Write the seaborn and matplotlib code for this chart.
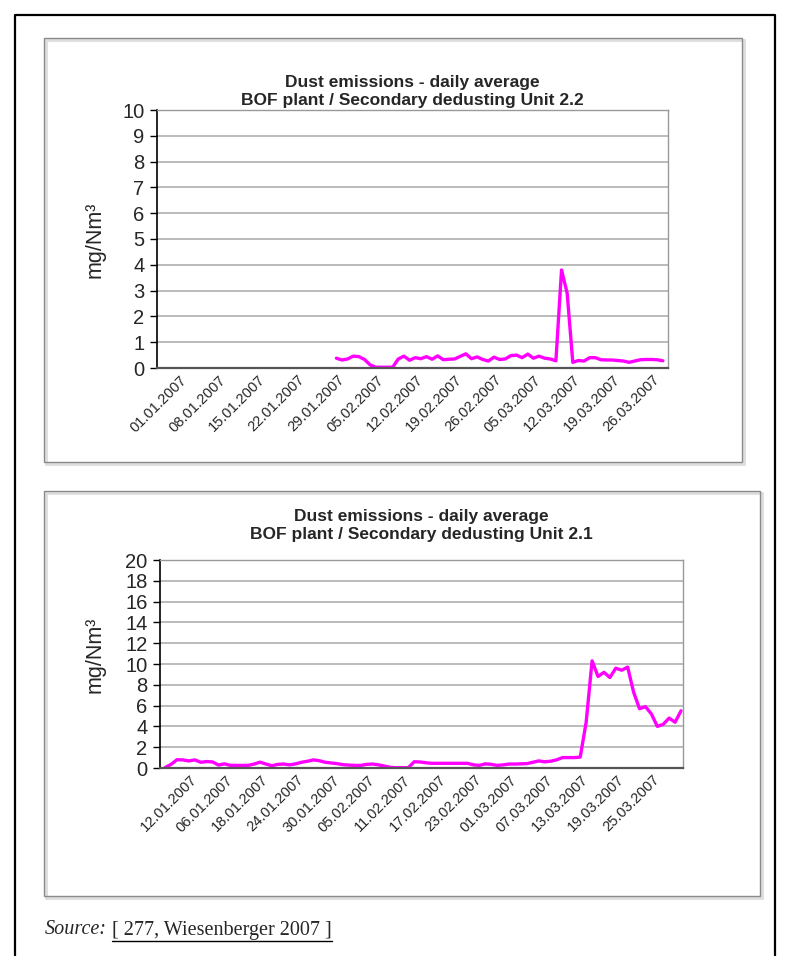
"""
Dust emissions - daily average, BOF plant / secondary dedusting units 2.2 and 2.1.
"""
import matplotlib
matplotlib.use("Agg")
import matplotlib.pyplot as plt
import matplotlib.transforms as mtransforms
from matplotlib.patches import Rectangle
from matplotlib.lines import Line2D
import pandas as pd
import seaborn as sns

# --- Unit 2.2 (daily averages, mg/Nm3), data from 28.01.2007 ---
unit22_start = "2007-01-28"
unit22_values = [
    0.38, 0.31, 0.35, 0.46, 0.44, 0.33, 0.12, 0.03, 0.03, 0.03,
    0.03, 0.35, 0.46, 0.30, 0.40, 0.36, 0.44, 0.34, 0.47, 0.32,
    0.34, 0.35, 0.45, 0.55, 0.36, 0.43, 0.33, 0.27, 0.42, 0.33,
    0.35, 0.48, 0.50, 0.40, 0.54, 0.38, 0.46, 0.38, 0.35, 0.28,
    3.80, 2.90, 0.22, 0.29, 0.27, 0.40, 0.40, 0.32, 0.31, 0.31,
    0.29, 0.27, 0.22, 0.27, 0.32, 0.33, 0.33, 0.32, 0.28,
]
unit22_tick_dates = ["2007-01-01", "2007-01-08", "2007-01-15", "2007-01-22", "2007-01-29",
                     "2007-02-05", "2007-02-12", "2007-02-19", "2007-02-26", "2007-03-05",
                     "2007-03-12", "2007-03-19", "2007-03-26"]
unit22_ticks = ["01.01.2007", "08.01.2007", "15.01.2007", "22.01.2007", "29.01.2007",
                "05.02.2007", "12.02.2007", "19.02.2007", "26.02.2007", "05.03.2007",
                "12.03.2007", "19.03.2007", "26.03.2007"]
unit22_yticks = list(range(0, 11))

# --- Unit 2.1 (daily averages, mg/Nm3), data from 01.01.2007 ---
unit21_start = "2007-01-01"
unit21_values = [
    0.05, 0.35, 0.80, 0.78, 0.68, 0.78, 0.55, 0.62, 0.58, 0.28,
    0.40, 0.25, 0.25, 0.25, 0.25, 0.38, 0.56, 0.38, 0.22, 0.35,
    0.38, 0.30, 0.40, 0.55, 0.65, 0.78, 0.70, 0.55, 0.48, 0.42,
    0.32, 0.28, 0.25, 0.25, 0.35, 0.38, 0.30, 0.18, 0.06, 0.03,
    0.03, 0.03, 0.60, 0.58, 0.50, 0.45, 0.45, 0.45, 0.45, 0.45,
    0.45, 0.45, 0.30, 0.25, 0.40, 0.35, 0.25, 0.30, 0.38, 0.38,
    0.40, 0.42, 0.55, 0.68, 0.60, 0.65, 0.78, 1.00, 1.00, 1.00,
    1.05, 4.40, 10.30, 8.80, 9.20, 8.70, 9.60, 9.40, 9.70, 7.30,
    5.70, 5.90, 5.20, 4.00, 4.20, 4.80, 4.40, 5.50,
]
unit21_tick_dates = ["2007-01-06", "2007-01-12", "2007-01-18", "2007-01-24", "2007-01-30",
                     "2007-02-05", "2007-02-11", "2007-02-17", "2007-02-23", "2007-03-01",
                     "2007-03-07", "2007-03-13", "2007-03-19", "2007-03-25"]
# tick labels exactly as printed in the source chart
unit21_ticks = ["12.01.2007", "06.01.2007", "18.01.2007", "24.01.2007", "30.01.2007",
                "05.02.2007", "11.02.2007", "17.02.2007", "23.02.2007", "01.03.2007",
                "07.03.2007", "13.03.2007", "19.03.2007", "25.03.2007"]
unit21_yticks = list(range(0, 21, 2))

title_line1 = "Dust emissions - daily average"
unit22_title = "BOF plant / Secondary dedusting Unit 2.2"
unit21_title = "BOF plant / Secondary dedusting Unit 2.1"

W, H = 789, 956
LINE_COLOR = "#ff00ff"

sns.set_style("white")
plt.rcParams["font.family"] = ["Liberation Sans", "DejaVu Sans"]

fig = plt.figure(figsize=(W / 100, H / 100), dpi=100)


def px_box(left, top, right, bottom):
    return [left / W, 1 - bottom / H, (right - left) / W, (bottom - top) / H]


def frame(left, top, right, bottom, color, lw):
    # light shadow then the grey border of the chart box
    fig.patches.append(Rectangle(((left + 2) / W, 1 - (bottom + 2) / H), (right - left) / W,
                                 (bottom - top) / H, transform=fig.transFigure,
                                 fill=False, edgecolor="#dddddd", lw=2))
    fig.patches.append(Rectangle((left / W, 1 - bottom / H), (right - left) / W,
                                 (bottom - top) / H, transform=fig.transFigure,
                                 fill=False, edgecolor=color, lw=lw))


def draw_panel(rect, start, values, tick_dates, tick_labels, yticks, xlim, title2, title_y, ylab_y):
    ax = fig.add_axes(rect)
    df = pd.DataFrame({"date": pd.date_range(start, periods=len(values), freq="D"),
                       "value": values})
    sns.lineplot(data=df, x="date", y="value", ax=ax, color=LINE_COLOR, lw=2.4)
    ax.set_ylim(yticks[0], yticks[-1])
    ax.set_yticks(yticks)
    ax.set_yticklabels([str(v) for v in yticks], fontsize=14.5)
    ax.set_xlim(pd.Timestamp(xlim[0]), pd.Timestamp(xlim[1]))
    ax.set_xticks(pd.to_datetime(tick_dates))
    ax.set_xticklabels(tick_labels, rotation=45, ha="right", va="center",
                       rotation_mode="anchor", fontsize=10.5)
    shift = mtransforms.ScaledTranslation(8 / 100, 0, fig.dpi_scale_trans)
    for lab in ax.get_xticklabels():
        lab.set_transform(lab.get_transform() + shift)
    ax.tick_params(axis="x", length=0, pad=7)
    ax.tick_params(axis="y", length=5, width=1, color="black", pad=4, left=True)
    for y in yticks[1:]:
        ax.axhline(y, color="#a8a8a8", lw=1.1, zorder=0)
    ax.set_xlabel("")
    ax.set_ylabel("")
    ax.spines["left"].set_color("black")
    ax.spines["left"].set_linewidth(1.2)
    ax.spines["bottom"].set_color("#555555")
    ax.spines["bottom"].set_linewidth(1.6)
    for s in ("top", "right"):
        ax.spines[s].set_color("#999999")
        ax.spines[s].set_linewidth(1.0)
    cx = rect[0] + rect[2] / 2
    fig.text(cx, 1 - title_y / H, title_line1, ha="center", va="center",
             fontsize=12.5, fontweight="bold")
    fig.text(cx, 1 - (title_y + 17) / H, title2, ha="center", va="center",
             fontsize=12.5, fontweight="bold")
    fig.text(95 / W, 1 - ylab_y / H, "mg/Nm³", rotation=90, ha="center",
             va="center", fontsize=15.5)
    return ax


# outer frame (open at the bottom)
fig.add_artist(Line2D([15 / W, 15 / W, 775 / W, 775 / W], [0, 1 - 15 / H, 1 - 15 / H, 0],
                      transform=fig.transFigure, color="black", lw=1.6))

# chart boxes
frame(44, 38, 742, 462, "#8a8a8a", 1.0)
frame(44, 491, 760, 896, "#8a8a8a", 1.0)

draw_panel(px_box(157, 110, 668, 368), unit22_start, unit22_values,
           unit22_tick_dates, unit22_ticks, unit22_yticks,
           ("2006-12-27 03:00", "2007-03-27 22:00"),
           unit22_title, 83, 240)

draw_panel(px_box(160, 560, 683, 768), unit21_start, unit21_values,
           unit21_tick_dates, unit21_ticks, unit21_yticks,
           ("2006-12-31 03:00", "2007-03-29 08:00"),
           unit21_title, 517, 655)

# source line
src1 = fig.text(45 / W, 1 - 930 / H, "Source:", fontsize=14.5, style="italic",
                family=["Liberation Serif"], va="center")
fig.canvas.draw()
bb = src1.get_window_extent()
src2 = fig.text((bb.x1 + 5) / W, 1 - 930 / H, "[ 277, Wiesenberger 2007 ]", fontsize=14.5,
                family=["Liberation Serif"], va="center")
fig.canvas.draw()
bb2 = src2.get_window_extent()
fig.add_artist(Line2D([bb2.x0 / W, bb2.x1 / W], [(bb2.y0 - 1) / H, (bb2.y0 - 1) / H],
                      transform=fig.transFigure, color="black", lw=1.0))

fig.savefig("out.png", dpi=100)
